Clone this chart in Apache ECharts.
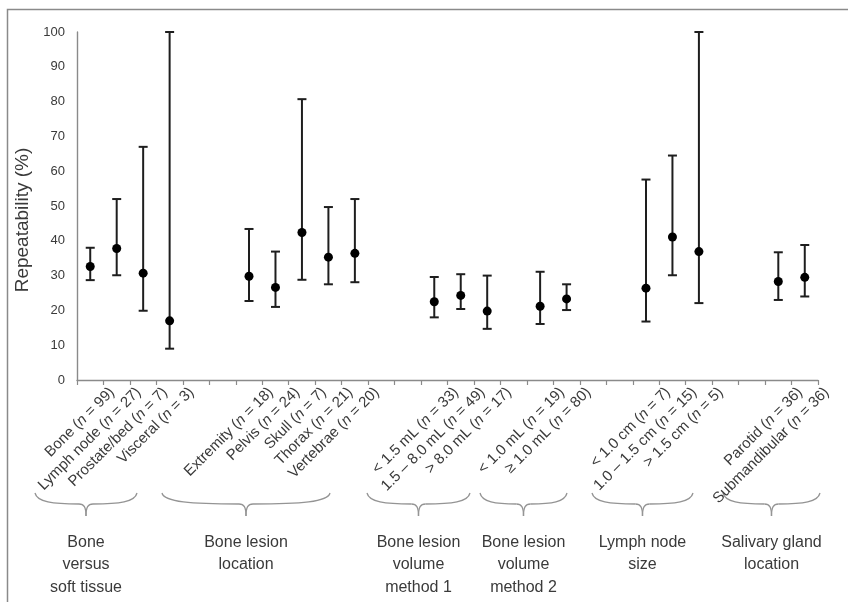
<!DOCTYPE html>
<html><head><meta charset="utf-8">
<script src="https://cdn.jsdelivr.net/npm/echarts@6/dist/echarts.min.js"></script>
<style>html,body{margin:0;padding:0;background:#fff}#c{width:853px;height:602px}</style>
</head><body><div id="c"></div>
<script>
// ---- data ----
const categories = ['Bone (n = 99)','Lymph node (n = 27)','Prostate/bed (n = 7)','Visceral (n = 3)','','',
  'Extremity (n = 18)','Pelvis (n = 24)','Skull (n = 7)','Thorax (n = 21)','Vertebrae (n = 20)','','',
  '< 1.5 mL (n = 33)','1.5 – 8.0 mL (n = 49)','> 8.0 mL (n = 17)','',
  '< 1.0 mL (n = 19)','≥ 1.0 mL (n = 80)','','',
  '< 1.0 cm (n = 7)','1.0 – 1.5 cm (n = 15)','> 1.5 cm (n = 5)','','',
  'Parotid (n = 36)','Submandibular (n = 36)'];
const estimate = [32.6,37.8,30.7,17.0,null,null,29.8,26.6,42.4,35.3,36.4,null,null,22.5,24.3,19.8,null,21.2,23.3,null,null,26.4,41.1,36.9,null,null,28.3,29.5];
const lower    = [28.7,30.1,19.9,9.0,null,null,22.7,21.0,28.8,27.5,28.1,null,null,18.0,20.4,14.7,null,16.1,20.1,null,null,16.8,30.1,22.1,null,null,23.0,24.0];
const upper    = [38.0,52.0,67.0,100,null,null,43.4,36.9,80.7,49.7,52.0,null,null,29.6,30.4,30.0,null,31.1,27.5,null,null,57.6,64.5,100,null,null,36.7,38.8];
const yMin = 0, yMax = 100, yStep = 10;
const groupLabels = ['Bone\nversus\nsoft tissue','Bone lesion\nlocation','Bone lesion\nvolume\nmethod 1','Bone lesion\nvolume\nmethod 2','Lymph node\nsize','Salivary gland\nlocation'];

// ---- layout of annotation braces (pixels) ----
const braceSpans = [[35,137],[162,330],[367,470],[480,567],[592,693],[723,820]];
const braceTop = 493;

const FONT = 'Liberation Sans, Arial, sans-serif';
const TXT = '#3a3a3a';

const errData = [];
const ptData = [];
categories.forEach((c, i) => {
  if (estimate[i] != null) {
    errData.push([i, lower[i], upper[i]]);
    ptData.push([i, estimate[i]]);
  }
});

function braceParts(L, R, y0) {
  const c = (L + R) / 2, h = 11, t = 23;
  const st = {stroke:'#949494', lineWidth:1.3, fill:null};
  const mk = (s) => ({type:'bezierCurve', shape:s, style:st, silent:true});
  return [
    mk({x1:L, y1:y0, cpx1:L+2, cpy1:y0+h-2, cpx2:L+(c-L)*0.35, cpy2:y0+h, x2:c-7, y2:y0+h}),
    mk({x1:c-7, y1:y0+h, cpx1:c-2, cpy1:y0+h, cpx2:c, cpy2:y0+h+3, x2:c, y2:y0+t}),
    mk({x1:R, y1:y0, cpx1:R-2, cpy1:y0+h-2, cpx2:R-(R-c)*0.35, cpy2:y0+h, x2:c+7, y2:y0+h}),
    mk({x1:c+7, y1:y0+h, cpx1:c+2, cpy1:y0+h, cpx2:c, cpy2:y0+h+3, x2:c, y2:y0+t})
  ];
}

const graphics = [
  {type:'polyline', shape:{points:[[7.5,602],[7.5,9.5],[848,9.5]]}, style:{stroke:'#8a8a8a', lineWidth:1.5, fill:null}, silent:true}
];
braceSpans.forEach((s, k) => {
  braceParts(s[0], s[1], braceTop).forEach(g => graphics.push(g));
  graphics.push({type:'text', x:(s[0]+s[1])/2, y:531, style:{text:groupLabels[k], font:`16px ${FONT}`, fill:TXT, align:'center', verticalAlign:'top', lineHeight:22.5}, silent:true});
});

const chart = echarts.init(document.getElementById('c'));
chart.setOption({
  animation:false,
  backgroundColor:'#fff',
  grid:{left:77, right:35, top:32, bottom:222, containLabel:false},
  xAxis:{
    type:'category', data:categories, boundaryGap:true,
    axisLine:{lineStyle:{color:'#8a8a8a', width:1.4}},
    axisTick:{show:true, length:5, lineStyle:{color:'#8a8a8a', width:1.2}},
    axisLabel:{
      interval:0, rotate:45, margin:-12, padding:[62,0,0,0],
      fontSize:15, fontFamily:FONT, color:TXT,
      formatter: v => v.replace('(n =', '({i|n} ='),
      rich:{i:{fontStyle:'italic', fontSize:15, fontFamily:FONT, color:TXT}}
    },
    splitLine:{show:false}
  },
  yAxis:{
    type:'value', min:yMin, max:yMax, interval:yStep,
    axisLine:{show:true, lineStyle:{color:'#8a8a8a', width:1.4}},
    axisTick:{show:false},
    splitLine:{show:false},
    axisLabel:{fontSize:13, fontFamily:FONT, color:TXT, margin:12},
    name:'Repeatability (%)', nameLocation:'middle', nameGap:35,
    nameTextStyle:{fontSize:19, fontFamily:FONT, color:TXT, padding:[0,28,0,0]}
  },
  series:[
    {type:'custom', data:errData, encode:{x:0, y:[1,2]}, z:2,
     renderItem:(params, api) => {
       const x = api.value(0);
       const pLo = api.coord([x, api.value(1)]);
       const pHi = api.coord([x, api.value(2)]);
       const w = 4.5;
       const st = {stroke:'#1e1e1e', lineWidth:2};
       return {type:'group', children:[
         {type:'line', shape:{x1:pLo[0], y1:pLo[1], x2:pHi[0], y2:pHi[1]}, style:st},
         {type:'line', shape:{x1:pHi[0]-w, y1:pHi[1], x2:pHi[0]+w, y2:pHi[1]}, style:st},
         {type:'line', shape:{x1:pLo[0]-w, y1:pLo[1], x2:pLo[0]+w, y2:pLo[1]}, style:st}
       ]};
     }},
    {type:'scatter', data:ptData, symbol:'circle', symbolSize:9, z:3,
     itemStyle:{color:'#000', opacity:1}}
  ],
  graphic:graphics
});
</script></body></html>
